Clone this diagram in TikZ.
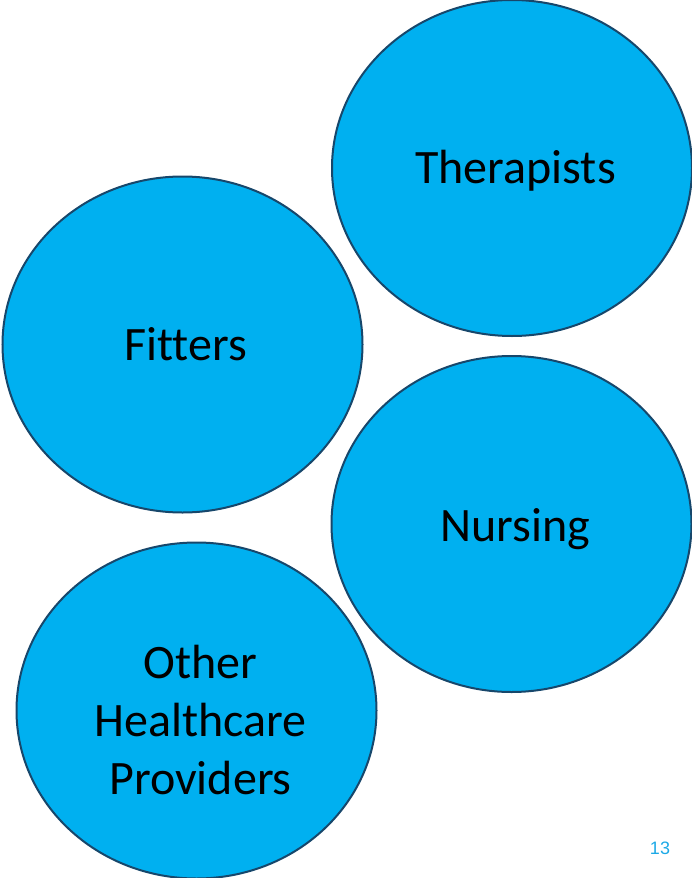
\documentclass[tikz,border=0pt]{standalone}
\usepackage{fontspec}
\setmainfont{Carlito}[Ligatures=NoCommon]
\newfontfamily\pagenumfont{Liberation Sans}
\usetikzlibrary{shapes.geometric}
\definecolor{bubblefill}{HTML}{00B0F0}
\definecolor{bubbleline}{HTML}{17476B}
\definecolor{pagenumcol}{HTML}{1CA9E6}
\tikzset{
  bubble/.style={ellipse, draw=bubbleline, fill=bubblefill, line width=2pt,
    minimum width=360pt, minimum height=336pt, inner sep=0pt},
  bubbletext/.style={inner sep=0pt, align=center, font=\fontsize{48}{58}\selectfont}
}
\begin{document}
\begin{tikzpicture}[x=1pt,y=-1pt]
  \clip (0,0) rectangle (692,878);
  \useasboundingbox (0,0) rectangle (692,878);

  % Drawing ellipse Therapists
  \node [bubble] (therapists) at (512,168) {};%
  \node [bubbletext] (therapiststext) at ([shift={(3.5,3)}]therapists.center) {Therapists};%

  % Drawing ellipse Fitters
  \node [bubble] (fitters) at (182.5,344.5) {};%
  \node [bubbletext] (fitterstext) at ([shift={(3,0)}]fitters.center) {Fitters};%

  % Drawing ellipse Nursing
  \node [bubble] (nursing) at (511.5,524) {};%
  \node [bubbletext] (nursingtext) at ([shift={(3.5,5)}]nursing.center) {Nursing};%

  % Drawing ellipse Other Healthcare Providers
  \node [bubble] (others) at (196.5,710.5) {};%
  \node [bubbletext] (otherstext) at ([shift={(4,10)}]others.center) {Other\\Healthcare\\Providers};%

  % Marking page number
  \node [font=\pagenumfont\fontsize{18}{20}\selectfont, text=pagenumcol] (pagenum) at (660,848) {13};%
\end{tikzpicture}
\end{document}
